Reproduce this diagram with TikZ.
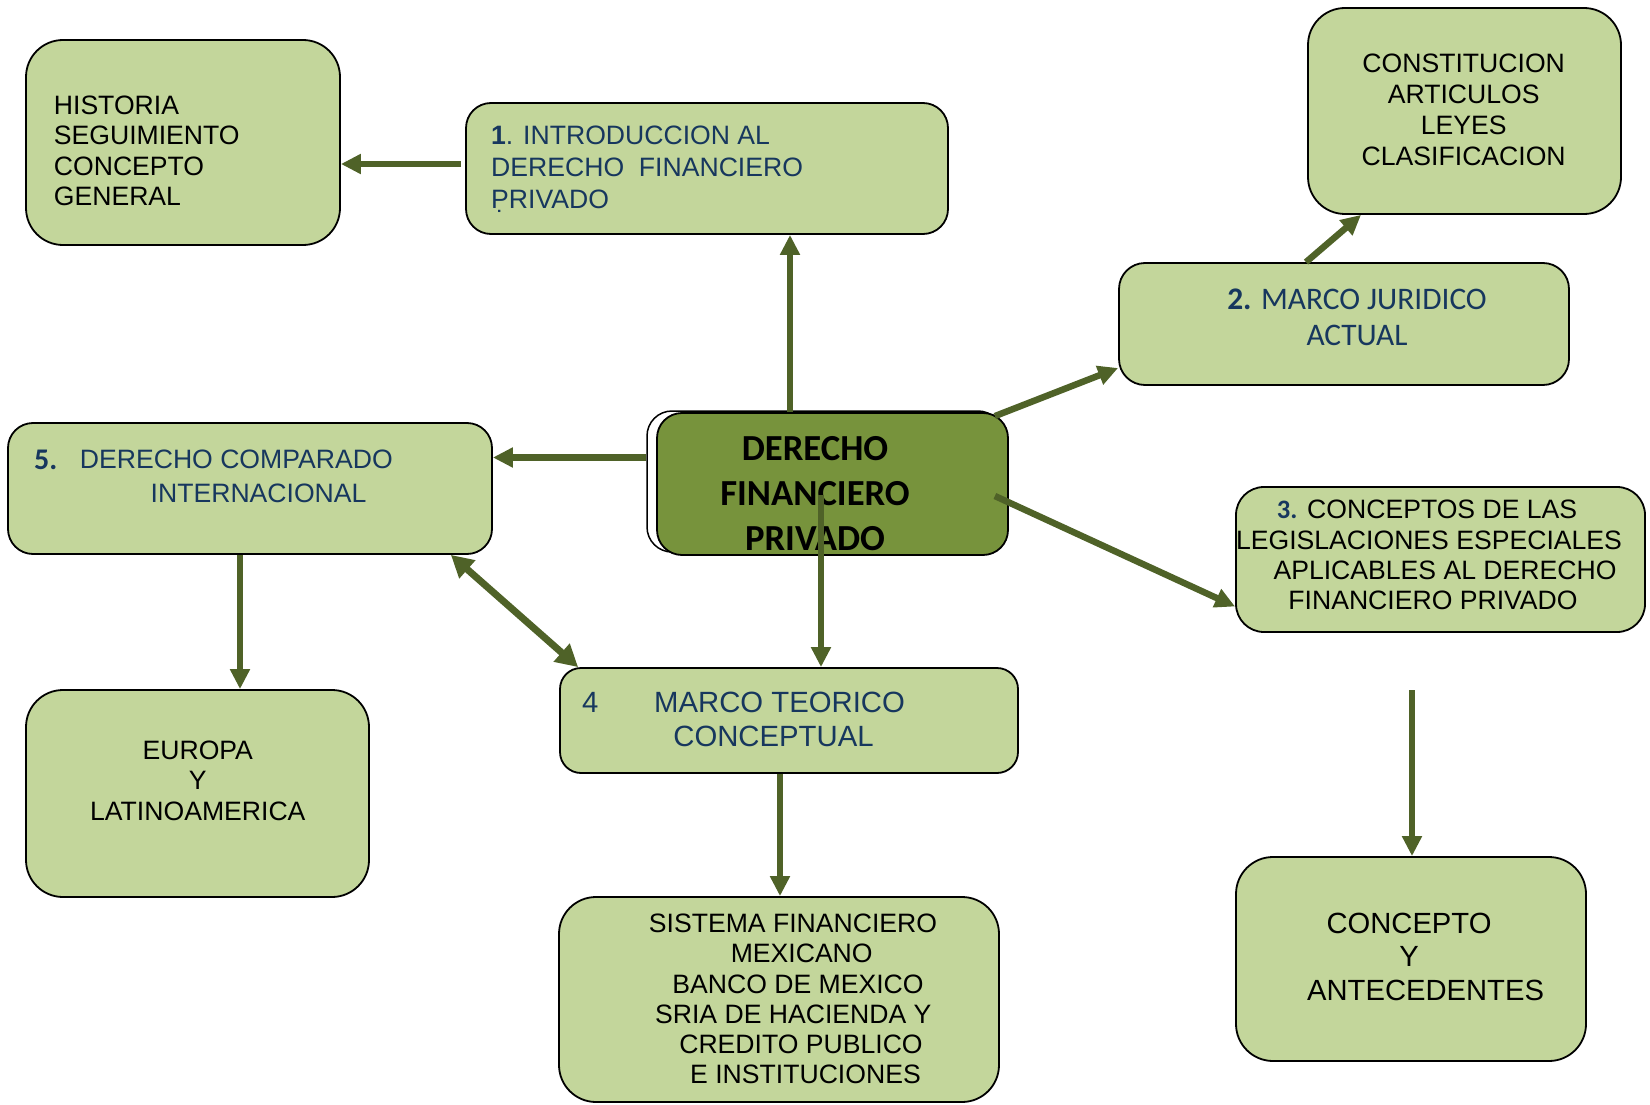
\documentclass[tikz,border=0pt]{standalone}
\usepackage{fontspec}
\setmainfont{Liberation Sans}
\newfontfamily\calib{Carlito}
\usetikzlibrary{arrows.meta}
\definecolor{boxfill}{HTML}{C3D69B}
\definecolor{corefill}{HTML}{77933C}
\definecolor{arrowc}{HTML}{4F6228}
\definecolor{navy}{HTML}{17375E}
\tikzset{
  box/.style={draw=black, line width=1.8pt, fill=boxfill, rounded corners=#1, inner sep=0pt},
  box/.default=37pt,
  txt/.style={inner sep=0pt, font=\fontsize{26.6}{30.5}\selectfont},
  arr/.style={draw=arrowc, line width=6.5pt, -{Triangle[length=20pt,width=19pt]}},
  darr/.style={draw=arrowc, line width=7pt, {Triangle[length=22pt,width=23pt]}-{Triangle[length=22pt,width=23pt]}}
}
\begin{document}
\begin{tikzpicture}[x=1pt,y=-1pt]
\useasboundingbox (0,0) rectangle (1650,1105);
% boxes
\node[box=37pt, minimum width=314pt, minimum height=205pt] (hist) at (183,142.5) {};
\node[box=25pt, minimum width=482pt, minimum height=131pt] (intro) at (707,168.5) {};
\node[box=37pt, minimum width=313pt, minimum height=206pt] (const) at (1464.5,111) {};
\node[box=26pt, minimum width=450pt, minimum height=122pt] (mj) at (1344,324) {};
\node[draw=black, line width=1.5pt, fill=white, rounded corners=25pt, inner sep=0pt, minimum width=356pt, minimum height=141pt] (coreback) at (825,481.5) {};
\node[draw=black, line width=1.8pt, fill=corefill, rounded corners=25pt, inner sep=0pt, minimum width=351pt, minimum height=142pt] (core) at (832.5,484) {};
\node[box=25pt, minimum width=484pt, minimum height=131pt] (dc) at (250,488.5) {};
\node[box=28pt, minimum width=409pt, minimum height=145pt] (conc) at (1440.5,559.5) {};
\node[box=37pt, minimum width=343pt, minimum height=207pt] (eur) at (197.5,793.5) {};
\node[box=21pt, minimum width=458pt, minimum height=105pt] (mt) at (789,720.5) {};
\node[box=37pt, minimum width=440pt, minimum height=205pt] (sis) at (779,999.5) {};
\node[box=37pt, minimum width=350pt, minimum height=204pt] (cy) at (1411,959) {};
% texts
\node[txt, anchor=north west, align=left] (histt) at (53.7,95.7) {HISTORIA\\SEGUIMIENTO\\CONCEPTO\\GENERAL};
\node[txt, anchor=north west, align=left, text=navy, font=\fontsize{26.6}{31.7}\selectfont] (introt) at (491,126) {\textbf{1}. INTRODUCCION AL\\DERECHO\ \ FINANCIERO\\\d{P}RIVADO};
\node[txt, anchor=north, align=center, font=\fontsize{26.6}{30.9}\selectfont] (constt) at (1463.7,54) {CONSTITUCION\\ARTICULOS\\LEYES\\CLASIFICACION};
\node[txt, anchor=north, align=center, text=navy, font=\calib\fontsize{31.4}{35.7}\selectfont] (mjt) at (1357,289) {\textbf{2.} MARCO JURIDICO\\ACTUAL};
\node[txt, anchor=north, align=center, font=\calib\bfseries\fontsize{36.7}{45}\selectfont] (coret) at (815,436) {DERECHO\\FINANCIERO\\PRIVADO};
\node[txt, anchor=north west, text=navy, font=\calib\bfseries\fontsize{30}{34}\selectfont] (dcn) at (34,450) {5.};
\node[txt, anchor=north west, text=navy] (dca) at (79.7,450) {DERECHO COMPARADO};
\node[txt, anchor=north west, text=navy] (dcb) at (150.5,484) {INTERNACIONAL};
\node[txt, anchor=north] (conc1) at (1427,499.5) {{\calib\bfseries\color{navy}3.} CONCEPTOS DE LAS};
\node[txt, anchor=north] (conc2) at (1429,530.6) {LEGISLACIONES ESPECIALES};
\node[txt, anchor=north] (conc3) at (1445,561) {APLICABLES AL DERECHO};
\node[txt, anchor=north] (conc4) at (1433,590.5) {FINANCIERO PRIVADO};
\node[txt, anchor=north, align=center, font=\fontsize{26.6}{30.4}\selectfont] (eurt) at (197.8,740.5) {EUROPA\\Y\\LATINOAMERICA};
\node[txt, anchor=north west, text=navy, font=\fontsize{29.3}{34}\selectfont] (mt4) at (582,692.3) {4};
\node[txt, anchor=north west, text=navy, font=\fontsize{29.3}{34}\selectfont] (mta) at (654,692.3) {MARCO TEORICO};
\node[txt, anchor=north, text=navy, font=\fontsize{29.3}{34}\selectfont] (mtb) at (773.5,726) {CONCEPTUAL};
\node[txt, anchor=north] (sis1) at (793,913.3) {SISTEMA FINANCIERO};
\node[txt, anchor=north] (sis2) at (801.7,943.3) {MEXICANO};
\node[txt, anchor=north] (sis3) at (798,974.3) {BANCO DE MEXICO};
\node[txt, anchor=north] (sis4) at (793.3,1005) {SRIA DE HACIENDA Y};
\node[txt, anchor=north] (sis5) at (801,1035) {CREDITO PUBLICO};
\node[txt, anchor=north] (sis6) at (805.5,1065) {E INSTITUCIONES};
\node[txt, anchor=north, font=\fontsize{29.2}{33.7}\selectfont] (cy1) at (1409,913) {CONCEPTO};
\node[txt, anchor=north, font=\fontsize{29.2}{33.7}\selectfont] (cy2) at (1409,946.7) {Y};
\node[txt, anchor=north, font=\fontsize{29.2}{33.7}\selectfont] (cy3) at (1425.6,980.4) {ANTECEDENTES};
% connectors
\coordinate (free) at (1412,690);
\draw[arr] ([xshift=-4pt,yshift=4.5pt]intro.west) -- ([yshift=-21.5pt]hist.east);
\draw[arr] ([xshift=-42.5pt]core.north) -- ([xshift=83pt]intro.south);
\draw[arr] ([xshift=-14pt,yshift=-4pt]core.north east) -- ([yshift=-44pt]mj.west);
\draw[arr] ([xshift=-38pt]mj.north) -- ([xshift=-103.5pt]const.south);
\draw[arr] ([xshift=-14pt,yshift=-12pt]core.east) -- ([yshift=-47pt]conc.west);
\draw[arr] ([yshift=24pt]coreback.west) -- ([yshift=31pt]dc.east);
\draw[arr] ([xshift=-11.5pt,yshift=-11pt]core.center) -- ([xshift=32pt]mt.north);
\draw[darr] ([xshift=-42pt]dc.south east) -- ([xshift=19pt]mt.north west);
\draw[arr] ([xshift=-10pt]dc.south) -- ([xshift=42.5pt]eur.north);
\draw[arr] ([xshift=-9pt]mt.south) -- ([xshift=1pt]sis.north);
\draw[arr] (free) -- ([xshift=1pt]cy.north);
\end{tikzpicture}
\end{document}
